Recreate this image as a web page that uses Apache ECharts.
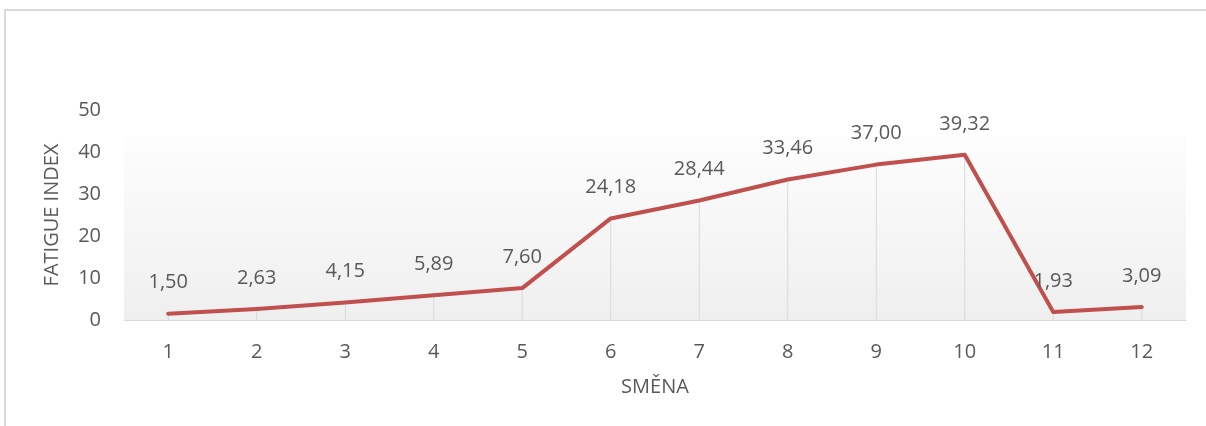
<!DOCTYPE html>
<html>
<head>
<meta charset="utf-8">
<script src="https://cdn.jsdelivr.net/npm/echarts@6/dist/echarts.min.js"></script>
<style>
  html, body { margin: 0; padding: 0; background: #ffffff; }
  #chart { width: 1206px; height: 426px; }
</style>
</head>
<body>
<div id="chart"></div>
<script>
// Shift numbers (SMĚNA) and fatigue index per shift
const shifts = ['1', '2', '3', '4', '5', '6', '7', '8', '9', '10', '11', '12'];
const fatigueIndex = [1.50, 2.63, 4.15, 5.89, 7.60, 24.18, 28.44, 33.46, 37.00, 39.32, 1.93, 3.09];

const textColor = '#595959';
const lineColor = '#c0504d';
const fontFamily = '"Open Sans", "Noto Sans", sans-serif';

const chart = echarts.init(document.getElementById('chart'), null, { renderer: 'canvas' });

chart.setOption({
  animation: false,
  backgroundColor: '#ffffff',
  textStyle: { fontFamily: fontFamily, color: textColor },
  graphic: [{
    // chart frame
    type: 'rect',
    shape: { x: 5, y: 10, width: 1300, height: 500 },
    style: { fill: 'none', stroke: '#d9d9d9', lineWidth: 2 },
    silent: true,
    z: -10
  }],
  grid: {
    left: 124,
    right: 20,
    top: 110,
    bottom: 106,
    show: true,
    borderWidth: 0,
    backgroundColor: {
      type: 'linear', x: 0, y: 0, x2: 0, y2: 1,
      colorStops: [
        { offset: 0, color: '#ffffff' },
        { offset: 0.125, color: '#ffffff' },
        { offset: 0.13, color: '#fdfdfd' },
        { offset: 1, color: '#efefef' }
      ]
    }
  },
  xAxis: {
    type: 'category',
    data: shifts,
    boundaryGap: true,
    name: 'SMĚNA',
    nameLocation: 'middle',
    nameGap: 57,
    nameTextStyle: { fontSize: 20, color: textColor, fontFamily: fontFamily },
    axisLine: { show: true, lineStyle: { color: '#d9d9d9', width: 1 } },
    axisTick: { show: false },
    axisLabel: { fontSize: 20, color: textColor, margin: 22, fontFamily: fontFamily },
    splitLine: { show: false }
  },
  yAxis: {
    type: 'value',
    min: 0,
    max: 50,
    interval: 10,
    name: 'FATIGUE INDEX',
    nameLocation: 'middle',
    nameGap: 62,
    nameTextStyle: { fontSize: 20, color: textColor, fontFamily: fontFamily },
    axisLine: { show: false },
    axisTick: { show: false },
    axisLabel: { fontSize: 20, color: textColor, margin: 23, fontFamily: fontFamily },
    splitLine: { show: false }
  },
  series: [
    {
      // drop lines from each point to the category axis
      type: 'bar',
      data: fatigueIndex,
      barWidth: 1,
      itemStyle: { color: '#d9d9d9' },
      silent: true,
      z: 1
    },
    {
      type: 'line',
      data: fatigueIndex,
      symbol: 'circle',
      symbolSize: 2,
      showSymbol: true,
      itemStyle: { color: lineColor },
      lineStyle: { color: lineColor, width: 4, cap: 'round', join: 'round' },
      label: {
        show: true,
        position: 'top',
        distance: 20,
        fontSize: 20,
        color: textColor,
        fontFamily: fontFamily,
        formatter: p => p.value.toFixed(2).replace('.', ',')
      },
      z: 3
    }
  ]
});
</script>
</body>
</html>
